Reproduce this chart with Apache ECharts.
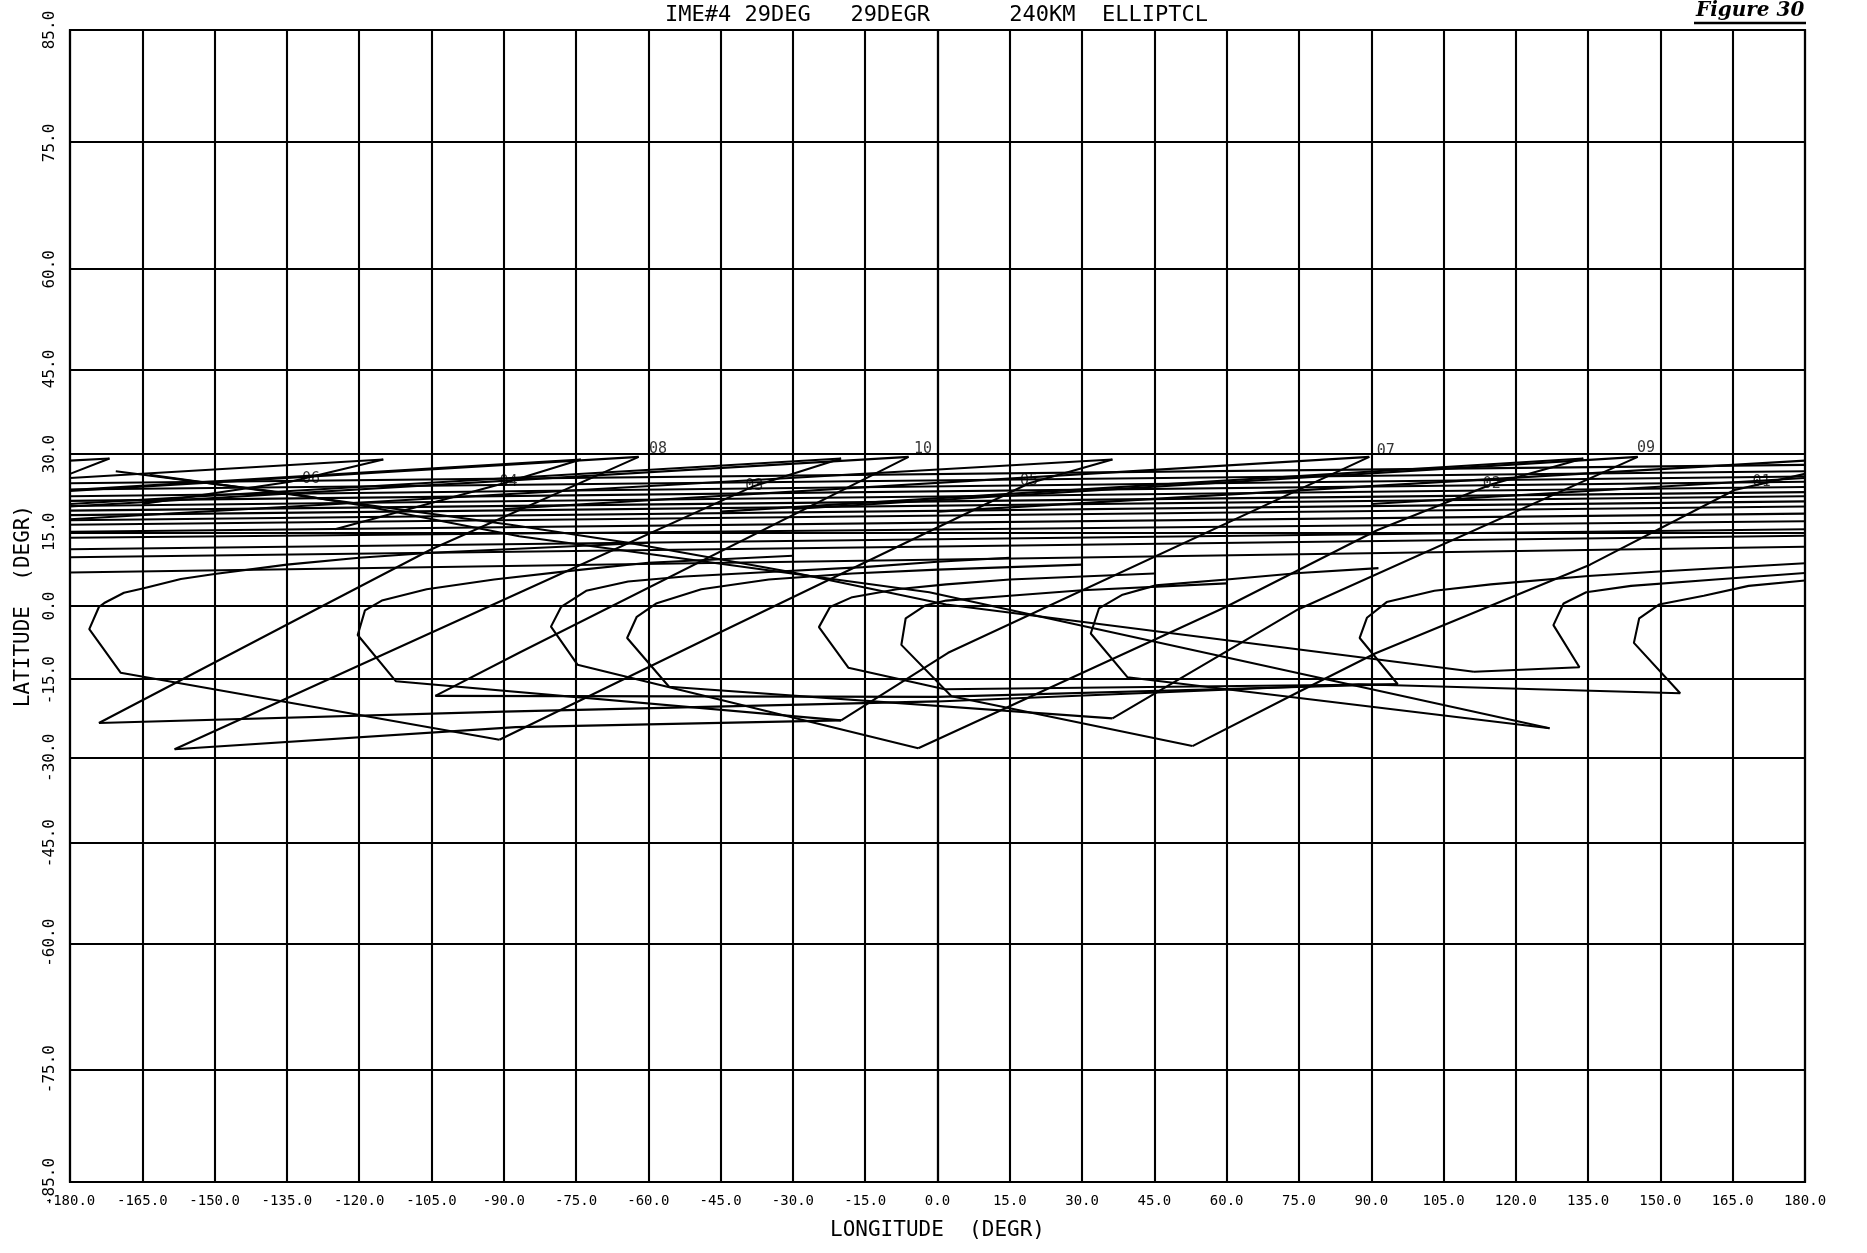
<!DOCTYPE html>
<html><head><meta charset="utf-8">
<script src="https://cdn.jsdelivr.net/npm/echarts@6/dist/echarts.min.js"></script>
<style>html,body{margin:0;padding:0;background:#fff}#c{width:1867px;height:1253px}</style>
</head><body><div id="c"></div>
<script>
const LON_TICKS_INTERVAL = 15;
const LAT_TICKS = [-85,-75,-60,-45,-30,-15,0,15,30,45,60,75,85];
const LAT_GRID = [-75,-60,-45,-30,-15,0,15,30,45,60,75];

// near-apogee drift band: latitude at the west edge and at the east edge
const BAND_LAT_W = [6.8, 9.9, 11.5, 13.8, 15.0, 16.4, 17.3, 18.3, 19.2, 20.1, 21.1, 22.0, 23.3, 24.5];
const BAND_LAT_E = [12.0, 14.2, 15.5, 17.1, 18.6, 20.0, 21.0, 22.0, 22.8, 23.8, 24.8, 25.8, 26.8, 28.0];

// hooks: drift tail -> nose -> bottom -> perigee end
const HOOK_A = [[-60,12.8],[-105,10.8],[-120,9.8],[-135,8.4],[-150,6.5],[-157,5.5],[-164.7,3.6],[-168.8,2.7],[-172.9,0.6],[-174,-0.2],[-176,-4.7],[-169.5,-13.5],[-90.9,-26.6]];
const HOOK_B = [[-30,10.2],[-60,8.8],[-75.8,7.2],[-92,5.4],[-106,3.4],[-115.3,1.1],[-118.8,-0.9],[-120.3,-5.9],[-112.4,-15.2],[-20,-22.9]];
const HOOK_C = [[15,9.8],[0,9],[-15.4,7.9],[-35,6.9],[-52.5,6],[-64.2,5],[-72.9,3.1],[-78.1,-0.2],[-80.2,-4.2],[-74.7,-11.9],[-4,-28.2]];
const HOOK_D = [[30,8.4],[0,7.4],[-17.7,6.6],[-35,5.4],[-49,3.4],[-58.4,0.5],[-62.4,-2.2],[-64.4,-6.5],[-55.7,-16.3],[36.3,-22.5]];
const HOOK_E = [[45,6.6],[15,5.4],[1.8,4.4],[-8.4,3.4],[-17.7,1.8],[-22.3,-0.2],[-24.6,-4.3],[-18.5,-12.5],[1.5,-16.8],[95.5,-15.8]];
const HOOK_F = [[60,4.6],[30,3.2],[15,2.1],[1.8,1.1],[-2.6,0.1],[-6.6,-2.5],[-7.5,-7.9],[2.9,-18.2],[52.9,-27.8]];
const HOOK_G = [[91.5,7.7],[75.1,6.7],[60,5.4],[45.3,4.2],[38.4,2.3],[33.5,-0.5],[31.8,-5.6],[39.4,-14.4],[127,-24.4]];
const HOOK_H = [[180,8.7],[149.7,7.0],[135,6.1],[114.8,4.4],[103.1,3.1],[93.2,0.8],[89.1,-2.4],[87.6,-6.5],[95.5,-15.8]];
const HOOK_I = [[180,6.7],[161.4,5.4],[143.9,4.1],[134.6,2.8],[129.9,0.5],[127.8,-3.9],[133.2,-12.4],[111.3,-13.3]];
const HOOK_J = [[180,5.2],[168.3,4.1],[159,2.1],[149.7,0.3],[145.6,-2.5],[144.5,-7.5],[154.1,-17.6],[87.4,-15.8],[0,-19.2],[-90,-21.2],[-174,-23.4]];

// other perigee-side passes
const LOW_B = [[-158.3,-28.4],[-87.5,-24.2],[-20,-22.9]];
const LOW_C = [[-104.2,-18.1],[0,-18.3],[95.5,-15.8]];
const LONG_1 = [[-170.5,26.8],[-134.3,22.5],[-119.9,20.3],[-86.8,14.1],[-1.7,2.8],[127,-24.4]];
const LONG_2 = [[-163.5,26.1],[-88.6,16.4],[-64.2,12.8],[-30.5,6.9],[1.8,0.3],[111.3,-13.3]];

// ascending legs: perigee cusp -> apex
const RISE_A = [[-174,-23.4],[-128,-0.2],[-105,11.5],[-62,29.5]];
const RISE_B = [[-158.3,-28.4],[-86.8,2.7],[-38,24],[-20,29.2]];
const RISE_C = [[-104.2,-18.1],[-86.8,-9.5],[-6,29.5]];
const RISE_D = [[-90.9,-26.6],[-45.4,-5.5],[19,24.5],[36.3,29.0]];
const RISE_E = [[-20,-22.9],[2.2,-9.5],[89.6,29.5]];
const RISE_F = [[-4,-28.2],[59.8,-0.2],[91.2,15.3],[115,24.3],[134,29.2]];
const RISE_G = [[36.3,-22.5],[74.8,-0.7],[145.3,29.5]];
const RISE_H1 = [[52.9,-27.8],[74.8,-17.4],[90.9,-9.6],[135.4,8.4],[165.4,23.2],[180,26.3]];
const RISE_H2 = [[-180,26.3],[-171.8,29.2]];
const RISE_06 = [[-165,20.5],[-134.3,24.8],[-115,29]];
const RISE_04 = [[-125,15.5],[-90,24.5],[-74,29]];

// westward return legs from each apex
const RET_08 = [[-62,29.5],[-180,23]];
const RET_03 = [[-20,29.2],[-180,20.5]];
const RET_10 = [[-6,29.5],[-180,20]];
const RET_05 = [[36.3,29],[-180,17.5]];
const RET_07 = [[89.6,29.5],[-90,19.5]];
const RET_02 = [[134,29.2],[-45,19]];
const RET_09 = [[145.3,29.5],[-30,19.5]];
const RET_06A = [[-115,29],[-180,25.5]];
const RET_06B = [[180,25.5],[90,20.5]];
const RET_04 = [[-74,29],[-180,23.2]];
const RET_01A = [[-171.8,29.2],[-180,28.8]];
const RET_01B = [[180,28.8],[0,19]];

const LABEL_TEXT = ['08','10','07','09','06','04','03','05','02','01'];
const LABEL_LON = [-58,-3,93,147,-130,-89,-38,19,115,171];
const LABEL_LAT = [31.0,31.0,30.6,31.2,25.3,24.7,24.0,24.9,24.3,24.7];

function miller(lat){ const r = lat*Math.PI/180; return 1.25*Math.log(Math.tan(Math.PI/4+0.4*r)); }
function invMiller(y){ return (Math.atan(Math.exp(y/1.25)) - Math.PI/4)/0.4*180/Math.PI; }

const FONT = 'DejaVu Sans Mono';
const lineStyle = {color:'#000', width:2.1};
const tracks = [HOOK_A,HOOK_B,HOOK_C,HOOK_D,HOOK_E,HOOK_F,HOOK_G,HOOK_H,HOOK_I,HOOK_J,
  LOW_B,LOW_C,LONG_1,LONG_2,
  RISE_A,RISE_B,RISE_C,RISE_D,RISE_E,RISE_F,RISE_G,RISE_H1,RISE_H2,RISE_06,RISE_04,
  RET_08,RET_03,RET_10,RET_05,RET_07,RET_02,RET_09,RET_06A,RET_06B,RET_04,RET_01A,RET_01B];
BAND_LAT_W.forEach((w,i)=>tracks.push([[-180,w],[180,BAND_LAT_E[i]]]));

const series = tracks.map(t=>({type:'line', data:t.map(p=>[p[0], miller(p[1])]), showSymbol:false, symbol:'none',
  lineStyle, silent:true, animation:false, z:3}));
series.push({type:'line', data:[], silent:true, animation:false,
  markLine:{symbol:'none', silent:true, label:{show:false}, lineStyle:{color:'#000', width:2.1, type:'solid'},
    data: LAT_GRID.map(l=>({yAxis: miller(l)}))}});
series.push({type:'scatter', symbolSize:1, itemStyle:{color:'rgba(0,0,0,0)'}, silent:true, animation:false, z:5,
  data: LABEL_TEXT.map((t,i)=>({name:t, value:[LABEL_LON[i], miller(LABEL_LAT[i])]})),
  label:{show:true, position:'inside', formatter:p=>p.name, fontFamily:FONT, fontSize:15, color:'#000'}});

const chart = echarts.init(document.getElementById('c'), null, {renderer:'canvas'});
chart.setOption({
  backgroundColor:'#fff',
  animation:false,
  title:{text:'IME#4 29DEG   29DEGR      240KM  ELLIPTCL', left:660, top:-1,
    textStyle:{fontFamily:FONT, fontSize:22, fontWeight:'normal', color:'#000'}},
  grid:{left:70, right:62, top:30, bottom:71, show:true, borderColor:'#000', borderWidth:2.2},
  xAxis:{type:'value', min:-180, max:180, interval:LON_TICKS_INTERVAL,
    name:'LONGITUDE  (DEGR)', nameLocation:'middle', nameGap:38,
    nameTextStyle:{fontFamily:FONT, fontSize:21, color:'#000'},
    axisLine:{lineStyle:{color:'#000', width:2.2}}, axisTick:{show:false},
    axisLabel:{formatter:v=>v.toFixed(1), fontFamily:FONT, fontSize:14, color:'#000', margin:12},
    splitLine:{show:true, lineStyle:{color:'#000', width:2.1}}},
  yAxis:{type:'value', min:miller(-85), max:miller(85),
    name:'LATITUDE  (DEGR)', nameLocation:'middle', nameGap:32,
    nameTextStyle:{fontFamily:FONT, fontSize:21, color:'#000'},
    axisLine:{show:true, lineStyle:{color:'#000', width:2.2}},
    axisTick:{show:false, customValues:LAT_TICKS.map(miller)},
    axisLabel:{customValues:LAT_TICKS.map(miller), rotate:90, margin:12,
      formatter:v=>Math.round(invMiller(v)).toFixed(1), fontFamily:FONT, fontSize:16, color:'#000'},
    splitLine:{show:false}},
  graphic:[
    {type:'text', left:1696, top:1, style:{text:'Figure 30', font:'italic bold 20px "DejaVu Serif"', fill:'#000'}},
    {type:'line', shape:{x1:1694, y1:23, x2:1806, y2:23}, style:{stroke:'#000', lineWidth:2.5}}
  ],
  series
});
</script></body></html>
